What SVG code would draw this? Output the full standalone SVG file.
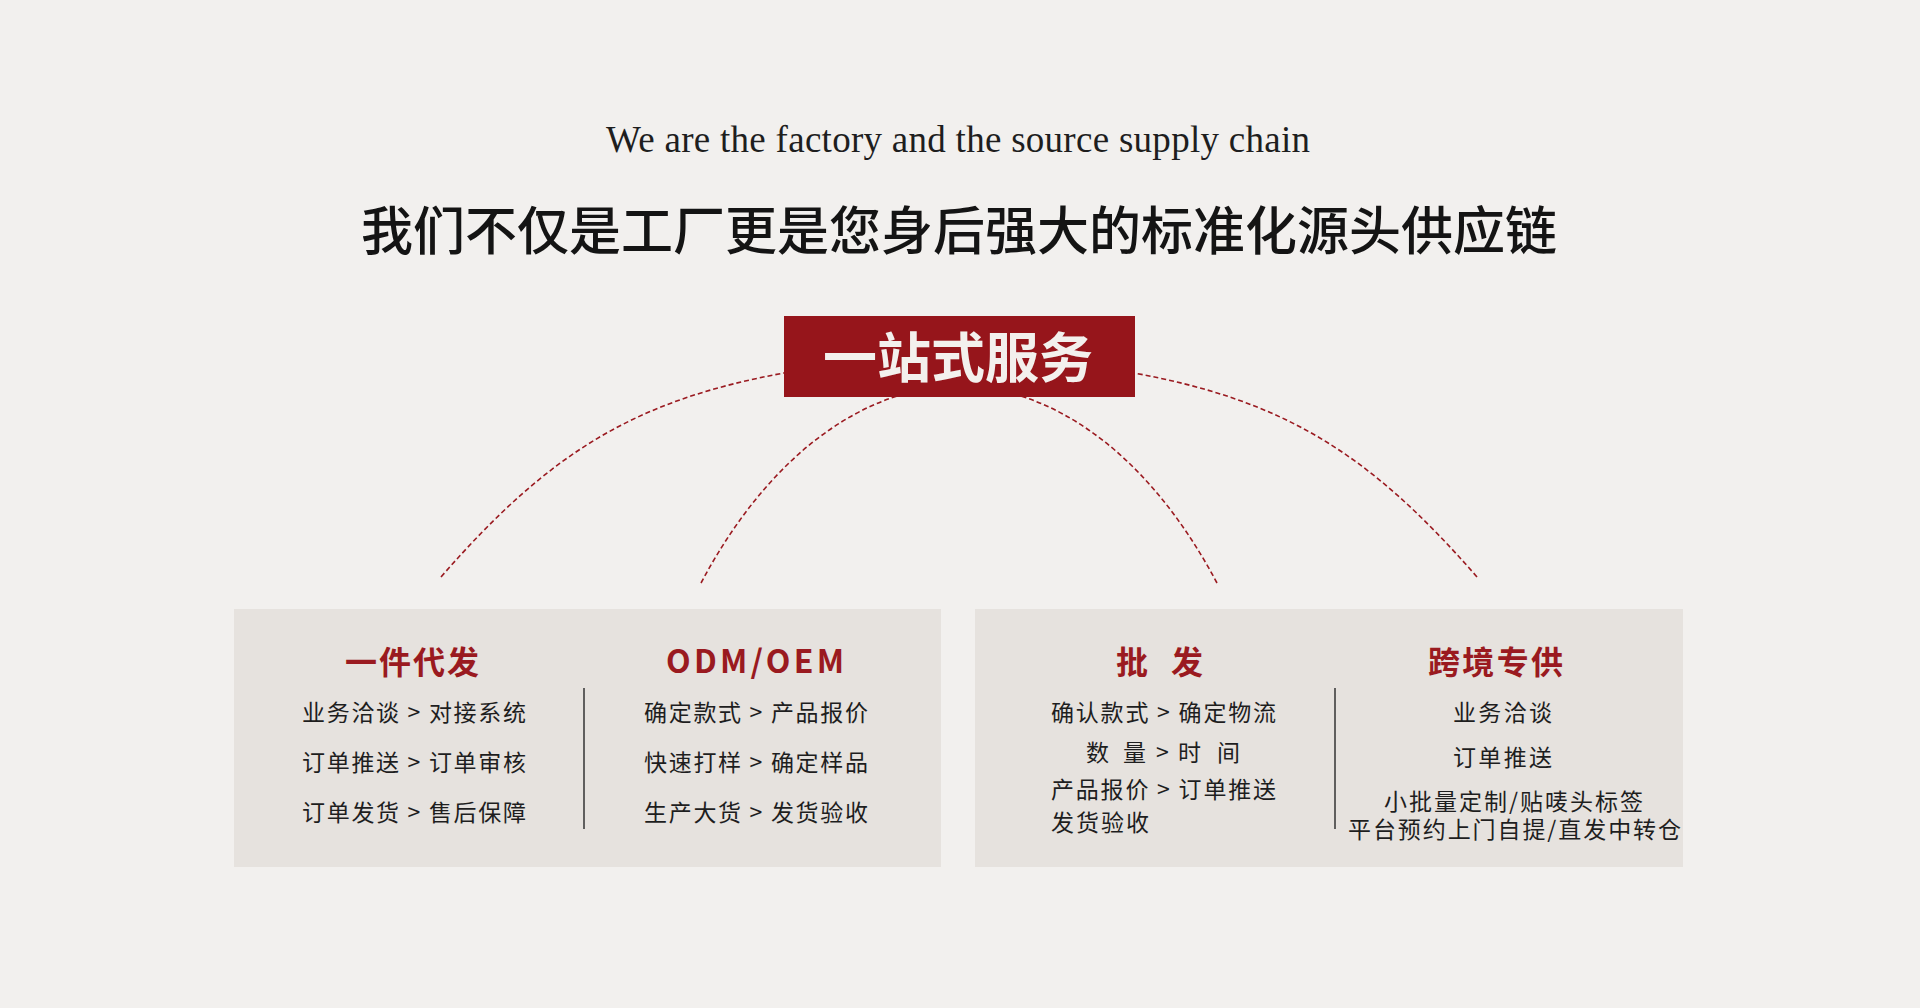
<svg xmlns="http://www.w3.org/2000/svg" width="1920" height="1008" viewBox="0 0 1920 1008">
  <style>
    .bg { fill: #f2f0ee; }
    .panel { fill: #e6e2de; }
    .hub { fill: #96151b; }
    .en { font-family: "Liberation Serif", "DejaVu Serif", serif; font-size: 37px; fill: #1e1e1e; }
    .title { font-family: "Noto Sans CJK SC", "Noto Sans", sans-serif; font-size: 52px; font-weight: 500; fill: #141414; }
    .hubtxt { font-family: "Noto Sans CJK SC", "Noto Sans", sans-serif; font-size: 54px; font-weight: 700; fill: #f3f0ed; }
    .head { font-family: "Noto Sans CJK SC", "Noto Sans", sans-serif; font-size: 32px; font-weight: 700; fill: #9a1a20; }
    .body { font-family: "Noto Sans CJK SC", "Noto Sans", sans-serif; font-size: 23px; font-weight: 400; fill: #1e1e1e; }
    .divider { stroke: #333333; stroke-width: 1.5; }
    .arc { fill: none; stroke: #9a1a20; stroke-width: 1.6; stroke-dasharray: 5 3; }
  </style>
  <rect class="bg" x="0" y="0" width="1920" height="1008"/>

  <g id="header">
    <text class="en" x="606" y="152" textLength="704" lengthAdjust="spacing">We are the factory and the source supply chain</text>
    <text class="title" x="361" y="250" textLength="1196" lengthAdjust="spacing">我们不仅是工厂更是您身后强大的标准化源头供应链</text>
  </g>

  <g id="connectors">
    <path class="arc" d="M441,577 C550.6,450.9 636.4,399.9 786,372.6"/>
    <path class="arc" d="M701,583 C752.6,485.9 820.5,420.8 897,396"/>
    <path class="arc" d="M1217,583 C1165.4,485.9 1097.5,420.8 1021,396"/>
    <path class="arc" d="M1477,577 C1367.4,450.9 1281.6,399.9 1132,372.6"/>
  </g>

  <g id="hub">
    <rect class="hub" x="784" y="316" width="351" height="81"/>
    <text class="hubtxt" x="823" y="378" textLength="270" lengthAdjust="spacing">一站式服务</text>
  </g>

  <g id="panel-left">
    <rect class="panel" x="234" y="609" width="707" height="258"/>
    <line class="divider" x1="584" y1="688" x2="584" y2="829"/>
    <g id="node-dropship">
      <text class="head" x="345" y="674" textLength="134" lengthAdjust="spacing">一件代发</text>
      <text class="body" x="302" y="721" textLength="224" lengthAdjust="spacing">业务洽谈 &gt; 对接系统</text>
      <text class="body" x="302" y="771" textLength="224" lengthAdjust="spacing">订单推送 &gt; 订单审核</text>
      <text class="body" x="302" y="821" textLength="224" lengthAdjust="spacing">订单发货 &gt; 售后保障</text>
    </g>
    <g id="node-odm">
      <text class="head" x="666" y="673" textLength="178" lengthAdjust="spacing">ODM/OEM</text>
      <text class="body" x="644" y="721" textLength="224" lengthAdjust="spacing">确定款式 &gt; 产品报价</text>
      <text class="body" x="644" y="771" textLength="224" lengthAdjust="spacing">快速打样 &gt; 确定样品</text>
      <text class="body" x="644" y="821" textLength="224" lengthAdjust="spacing">生产大货 &gt; 发货验收</text>
    </g>
  </g>

  <g id="panel-right">
    <rect class="panel" x="975" y="609" width="708" height="258"/>
    <line class="divider" x1="1335" y1="688" x2="1335" y2="829"/>
    <g id="node-wholesale">
      <text class="head" y="674"><tspan x="1116">批</tspan><tspan x="1171">发</tspan></text>
      <text class="body" x="1051" y="721" textLength="225" lengthAdjust="spacing">确认款式 &gt; 确定物流</text>
      <text class="body" y="761"><tspan x="1086">数</tspan><tspan x="1123">量</tspan><tspan x="1156">&gt;</tspan><tspan x="1178">时</tspan><tspan x="1217">间</tspan></text>
      <text class="body" x="1051" y="798" textLength="225" lengthAdjust="spacing">产品报价 &gt; 订单推送</text>
      <text class="body" x="1051" y="831" textLength="98" lengthAdjust="spacing">发货验收</text>
    </g>
    <g id="node-crossborder">
      <text class="head" x="1428" y="674" textLength="135" lengthAdjust="spacing">跨境专供</text>
      <text class="body" x="1453" y="721" textLength="99" lengthAdjust="spacing">业务洽谈</text>
      <text class="body" x="1453" y="766" textLength="99" lengthAdjust="spacing">订单推送</text>
      <text class="body" x="1384" y="810" textLength="259" lengthAdjust="spacing">小批量定制/贴唛头标签</text>
      <text class="body" x="1348" y="838" textLength="333" lengthAdjust="spacing">平台预约上门自提/直发中转仓</text>
    </g>
  </g>
</svg>
